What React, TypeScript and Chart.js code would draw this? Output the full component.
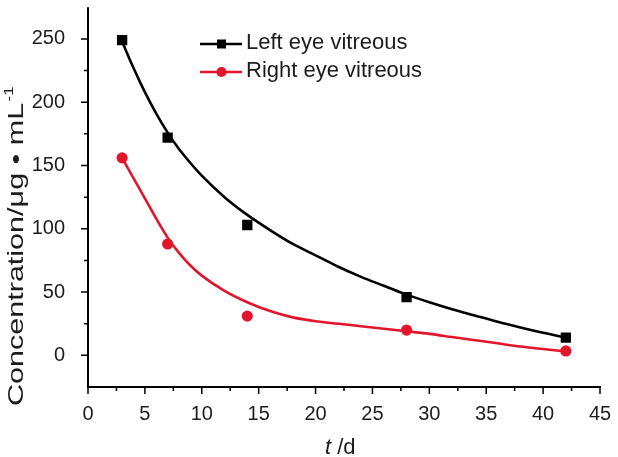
import React, { useEffect, useRef } from 'react';
import { Chart, registerables } from 'chart.js';

Chart.register(...registerables);

// Measured samples
const sampleDays = [3, 7, 14, 28, 42];
const leftEye = [249, 172, 103, 46, 14];
const rightEye = [156, 88, 31, 20, 3.5];

// Fitted curves
const fitDays = [3, 4, 5, 6, 7, 8, 9, 10, 12, 14, 16, 18, 20, 22, 24, 26, 28, 30, 32, 34, 36, 38, 40, 42];
const leftFit = [248, 227, 208, 191, 176, 163, 152, 142, 125, 111, 99, 88, 79, 70, 62, 55, 48, 42, 36.5, 31.5, 26.5, 22, 17.8, 14];
const rightFit = [156, 140, 124, 108, 93, 81, 71, 63, 51, 42, 35, 30, 27, 25, 23, 21, 19, 17, 14.5, 12, 9.5, 7, 5, 3];

// Axes
const xTicks = [0, 5, 10, 15, 20, 25, 30, 35, 40, 45];
const yTicks = [0, 50, 100, 150, 200, 250];
const legendLabels = ['Left eye vitreous', 'Right eye vitreous'];

const BLACK = '#000000';
const RED = '#E3152B';
const TEXT = '#1c1c1c';
const FONT = 'Arial, "Liberation Sans", sans-serif';

const toXY = (xs: number[], ys: number[]) => xs.map((x, i) => ({ x, y: ys[i] }));

const decorPlugin = {
  id: 'decor',
  afterDraw(chart: any) {
    const ctx = chart.ctx as CanvasRenderingContext2D;
    const xs = chart.scales.x;
    const ys = chart.scales.y;
    const { left, right, top, bottom } = chart.chartArea;
    ctx.save();
    ctx.strokeStyle = BLACK;
    ctx.lineWidth = 2;
    ctx.beginPath();
    ctx.moveTo(left, top);
    ctx.lineTo(left, bottom + 1);
    ctx.moveTo(left - 1, bottom);
    ctx.lineTo(right + 1, bottom);
    ctx.stroke();
    ctx.lineWidth = 1.5;
    ctx.beginPath();
    yTicks.forEach((v, i) => {
      const py = ys.getPixelForValue(v);
      ctx.moveTo(left - 7, py);
      ctx.lineTo(left, py);
      if (i < yTicks.length - 1) {
        const my = ys.getPixelForValue((v + yTicks[i + 1]) / 2);
        ctx.moveTo(left - 4, my);
        ctx.lineTo(left, my);
      }
    });
    xTicks.forEach((v, i) => {
      const px = xs.getPixelForValue(v);
      ctx.moveTo(px, bottom);
      ctx.lineTo(px, bottom + 7);
      if (i < xTicks.length - 1) {
        const mx = xs.getPixelForValue((v + xTicks[i + 1]) / 2);
        ctx.moveTo(mx, bottom);
        ctx.lineTo(mx, bottom + 4);
      }
    });
    ctx.stroke();

    // x title: italic t + " /d"
    ctx.fillStyle = TEXT;
    ctx.textBaseline = 'alphabetic';
    ctx.textAlign = 'left';
    ctx.font = `italic 22px ${FONT}`;
    const tx = 325;
    ctx.fillText('t', tx, 454);
    const tw = ctx.measureText('t').width;
    ctx.font = `22px ${FONT}`;
    ctx.fillText(' /d', tx + tw, 454);

    // y title (rotated)
    const main = 'Concentration/μg • mL';
    const sup = '-1';
    ctx.save();
    ctx.translate(23, 247);
    ctx.rotate(-Math.PI / 2);
    ctx.font = `22px ${FONT}`;
    const mw = ctx.measureText(main).width;
    ctx.font = `12px ${FONT}`;
    const sw = ctx.measureText(sup).width;
    const total = mw + sw;
    const sx = 318 / total;
    ctx.scale(sx, 1);
    ctx.textAlign = 'left';
    ctx.font = `22px ${FONT}`;
    ctx.fillText(main, -total / 2, 0);
    ctx.font = `12px ${FONT}`;
    ctx.fillText(sup, -total / 2 + mw + 1, -10);
    ctx.restore();

    // legend
    const rows = [
      { y: 44, base: 49, color: BLACK, marker: 'rect' },
      { y: 72, base: 77, color: RED, marker: 'circle' },
    ];
    rows.forEach((r, i) => {
      ctx.strokeStyle = r.color;
      ctx.fillStyle = r.color;
      ctx.lineWidth = 2.5;
      ctx.beginPath();
      ctx.moveTo(200, r.y);
      ctx.lineTo(242, r.y);
      ctx.stroke();
      if (r.marker === 'rect') {
        ctx.fillRect(217, r.y - 4.5, 9, 9);
      } else {
        ctx.beginPath();
        ctx.arc(221.5, r.y, 5, 0, Math.PI * 2);
        ctx.fill();
      }
      ctx.fillStyle = TEXT;
      ctx.font = `22px ${FONT}`;
      ctx.textAlign = 'left';
      ctx.fillText(legendLabels[i], 246, r.base);
    });
    ctx.restore();
  },
};

export default function App() {
  const ref = useRef<HTMLCanvasElement | null>(null);
  useEffect(() => {
    if (!ref.current) return;
    const chart = new Chart(ref.current, {
      type: 'scatter',
      data: {
        datasets: [
          {
            label: legendLabels[0] + ' data',
            data: toXY(sampleDays, leftEye),
            pointStyle: 'rect',
            pointRadius: 7.3,
            backgroundColor: BLACK,
            borderColor: BLACK,
            borderWidth: 0,
            showLine: false,
          },
          {
            label: legendLabels[1] + ' data',
            data: toXY(sampleDays, rightEye),
            pointStyle: 'circle',
            pointRadius: 5.6,
            backgroundColor: RED,
            borderColor: RED,
            borderWidth: 0,
            showLine: false,
          },
          {
            label: legendLabels[0],
            data: toXY(fitDays, leftFit),
            showLine: true,
            pointRadius: 0,
            borderColor: BLACK,
            borderWidth: 2.6,
            cubicInterpolationMode: 'monotone',
          },
          {
            label: legendLabels[1],
            data: toXY(fitDays, rightFit),
            showLine: true,
            pointRadius: 0,
            borderColor: RED,
            borderWidth: 2.6,
            cubicInterpolationMode: 'monotone',
          },
        ] as any,
      },
      options: {
        animation: false,
        responsive: true,
        maintainAspectRatio: false,
        layout: { padding: { top: 4, right: 18, left: 0, bottom: 0 } },
        plugins: { legend: { display: false }, tooltip: { enabled: false } },
        scales: {
          x: {
            type: 'linear',
            min: 0,
            max: 45,
            grid: { display: false },
            border: { display: false },
            afterBuildTicks: (s: any) => { s.ticks = xTicks.map((v) => ({ value: v })); },
            afterFit: (s: any) => { s.height = 70; s.paddingLeft = 0; s.paddingRight = 0; },
            ticks: {
              color: TEXT,
              padding: 7,
              maxRotation: 0,
              font: { size: 20, family: FONT },
              callback: (v: any) => String(v),
            },
          },
          y: {
            type: 'linear',
            min: -25,
            max: 275,
            grid: { display: false },
            border: { display: false },
            afterBuildTicks: (s: any) => { s.ticks = yTicks.map((v) => ({ value: v })); },
            afterFit: (s: any) => { s.width = 88; s.paddingTop = 0; s.paddingBottom = 0; },
            ticks: {
              color: TEXT,
              padding: 15,
              font: { size: 20, family: FONT },
              callback: (v: any) => String(v),
            },
          },
        },
      } as any,
      plugins: [decorPlugin],
    });
    return () => chart.destroy();
  }, []);
  return (
    <div style={{ position: 'fixed', left: 0, top: 0, width: 618, height: 457, background: '#fff' }}>
      <canvas ref={ref} />
    </div>
  );
}
